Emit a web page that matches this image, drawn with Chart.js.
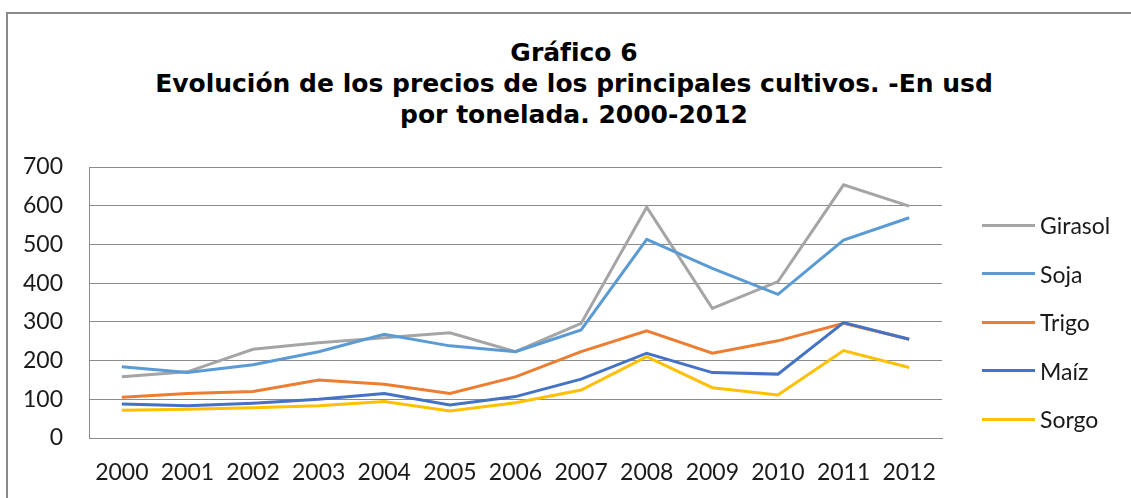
<!DOCTYPE html>
<html lang="es">
<head>
<meta charset="utf-8">
<title>Gráfico 6</title>
<script src="https://cdn.jsdelivr.net/npm/chart.js@4.4.1/dist/chart.umd.min.js"></script>
<style>
    body {
        margin: 0;
        width: 1131px;
        height: 498px;
        overflow: hidden;
        background: #fff;
        position: relative;
        font-family: Lato, sans-serif;
    }
    #marco {
        position: absolute;
        left: 6px;
        top: 12px;
        width: 1200px;
        height: 600px;
        border: 2px solid #8a8a8a;
    }
    #titulo {
        position: absolute;
        left: 0;
        top: 37px;
        width: 1148px;
        text-align: center;
        font: bold 25px "DejaVu Sans", sans-serif;
        line-height: 31px;
        color: #000;
    }
    #contenedor {
        position: absolute;
        left: 7px;
        top: 13px;
        width: 1134px;
        height: 485px;
    }
    #leyenda {
        position: absolute;
        left: 982px;
        top: 201px;
        margin: 0;
        padding: 0;
        list-style: none;
    }
    #leyenda li {
        display: flex;
        align-items: center;
        height: 48.5px;
        font-size: 23px;
        color: #1a1a1a;
    }
    #leyenda li span {
        display: inline-block;
        width: 53px;
        height: 3px;
        margin-right: 5px;
    }
</style>
</head>
<body>
<div id="marco"></div>
<div id="titulo">Gráfico 6<br>Evolución de los precios de los principales cultivos. -En usd<br>por tonelada. 2000-2012</div>
<div id="contenedor"><canvas id="graficaPrecios"></canvas></div>
<ul id="leyenda"></ul>
<script>
// Años del eje horizontal
const anios = ['2000', '2001', '2002', '2003', '2004', '2005', '2006',
               '2007', '2008', '2009', '2010', '2011', '2012'];

// Precios en usd por tonelada
const girasol = [158, 171, 229, 246, 259, 272, 223, 296, 596, 335, 404, 654, 599];
const soja    = [184, 169, 189, 223, 268, 238, 223, 279, 513, 438, 371, 511, 569];
const trigo   = [105, 115, 120, 150, 139, 115, 158, 223, 277, 219, 251, 296, 255];
const maiz    = [88, 83, 90, 100, 115, 85, 107, 152, 219, 169, 165, 298, 255];
const sorgo   = [72, 74, 78, 83, 94, 70, 91, 124, 210, 130, 111, 226, 182];

const nombres = ['Girasol', 'Soja', 'Trigo', 'Maíz', 'Sorgo'];
const colores = ['#a5a5a5', '#5b9bd5', '#ed7d31', '#4472c4', '#ffc000'];
const series  = [girasol, soja, trigo, maiz, sorgo];

// Marcas del eje vertical
const marcasY = [0, 100, 200, 300, 400, 500, 600, 700];

const colorTexto = '#1a1a1a';
const colorGrilla = '#8c8c8c';

const datasets = series.map((valores, i) => ({
    label: nombres[i],
    data: valores,
    borderColor: colores[i],
    backgroundColor: colores[i],
    borderWidth: 3,
    pointRadius: 0,
    tension: 0,
    order: series.length - i // la última serie queda arriba, como en Excel
}));

// Leyenda en HTML armada desde los datasets
const leyendaHtml = {
    id: 'leyendaHtml',
    afterUpdate(chart) {
        const ul = document.getElementById('leyenda');
        ul.innerHTML = '';
        chart.data.datasets.forEach(ds => {
            const li = document.createElement('li');
            const linea = document.createElement('span');
            linea.style.background = ds.borderColor;
            li.appendChild(linea);
            li.appendChild(document.createTextNode(ds.label));
            ul.appendChild(li);
        });
    }
};

const ctx = document.getElementById('graficaPrecios').getContext('2d');
new Chart(ctx, {
    type: 'line',
    data: {
        labels: anios,
        datasets: datasets
    },
    options: {
        responsive: true,
        maintainAspectRatio: false,
        animation: false,
        layout: {
            padding: { top: 154, right: 199, bottom: 0, left: 0 }
        },
        scales: {
            x: {
                offset: true,
                grid: { display: false, drawTicks: false },
                border: { display: true, color: colorGrilla, width: 1 },
                ticks: {
                    color: colorTexto,
                    padding: 21,
                    maxRotation: 0,
                    font: { family: 'Lato', size: 23 }
                },
                afterFit(scale) { scale.height = 60; }
            },
            y: {
                min: 0,
                max: 700,
                afterBuildTicks(scale) {
                    scale.ticks = marcasY.map(v => ({ value: v }));
                },
                grid: { color: colorGrilla, lineWidth: 1, drawTicks: false },
                border: { display: true, color: colorGrilla, width: 1 },
                ticks: {
                    color: colorTexto,
                    padding: 26,
                    font: { family: 'Lato', size: 23 }
                },
                afterFit(scale) { scale.width = 82; }
            }
        },
        plugins: {
            legend: { display: false },
            title: { display: false },
            tooltip: { enabled: false }
        }
    },
    plugins: [leyendaHtml]
});
</script>
</body>
</html>
